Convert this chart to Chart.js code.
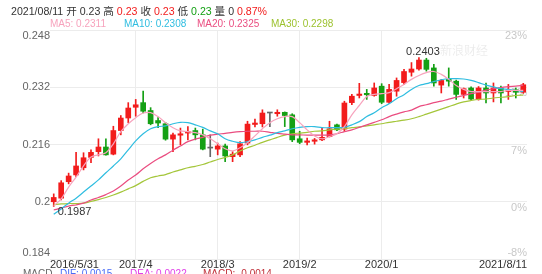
<!DOCTYPE html>
<html>
<head>
<meta charset="utf-8">
<script src="https://cdn.jsdelivr.net/npm/chart.js@4/dist/chart.umd.min.js"></script>
<style>
body{margin:0;background:#fff;font-family:Arial,"Liberation Sans","Noto Sans CJK SC",sans-serif;}
#wrap{position:relative;width:542px;height:274px;overflow:hidden;}
canvas{position:absolute;left:0;top:0;}
.hd{position:absolute;white-space:nowrap;}
.up{color:#f21c1c}.dn{color:#14a014}
</style>
</head>
<body>
<div id="wrap">
<canvas id="c" width="542" height="274"></canvas>
<div class="hd" style="left:11px;top:3px;font-size:10.6px;color:#333">2021/08/11 开 0.23 高 <span class="up">0.23</span> 收 <span class="up">0.23</span> 低 <span class="dn">0.23</span> 量 0 <span class="up">0.87%</span></div>
<div class="hd" style="left:50px;top:18px;font-size:10px;color:#f7a3bd">MA5: 0.2311</div>
<div class="hd" style="left:124px;top:18px;font-size:10px;color:#2fbde0">MA10: 0.2308</div>
<div class="hd" style="left:197px;top:18px;font-size:10px;color:#ea4d80">MA20: 0.2325</div>
<div class="hd" style="left:271px;top:18px;font-size:10px;color:#9cc22e">MA30: 0.2298</div>
<div class="hd" style="left:23px;top:268px;font-size:10px;color:#666">MACD</div>
<div class="hd" style="left:60px;top:268px;font-size:10px;color:#4a6cf7">DIF: 0.0015</div>
<div class="hd" style="left:130px;top:268px;font-size:10px;color:#e040e8">DEA: 0.0022</div>
<div class="hd" style="left:203px;top:268px;font-size:10px;color:#c0303a">MACD: -0.0014</div>
</div>
<script>
// monthly candles 2016/5 .. 2021/8
const months = [];
for (let y = 2016, m = 5; months.length < 64; m++) {
  if (m > 12) { m = 1; y++; }
  months.push(y + '/' + m);
}

const open  = [0.2000,0.2010,0.2056,0.2075,0.2095,0.2124,0.2140,0.2153,0.2133,0.2199,
               0.2234,0.2264,0.2277,0.2255,0.2227,0.2218,0.2175,0.2186,0.2192,0.2199,
               0.2187,0.2150,0.2147,0.2156,0.2126,0.2131,0.2164,0.2216,0.2218,0.2248,
               0.2246,0.2250,0.2243,0.2176,0.2166,0.2169,0.2173,0.2182,0.2215,0.2203,
               0.2277,0.2297,0.2303,0.2297,0.2323,0.2278,0.2309,0.2333,0.2362,0.2371,
               0.2396,0.2374,0.2326,0.2342,0.2337,0.2300,0.2318,0.2287,0.2318,0.2304,
               0.2318,0.2308,0.2313,0.2306];
const high  = [0.2022,0.2059,0.2080,0.2138,0.2137,0.2145,0.2176,0.2176,0.2211,0.2241,
               0.2277,0.2286,0.2309,0.2263,0.2235,0.2222,0.2192,0.2206,0.2210,0.2206,
               0.2203,0.2187,0.2164,0.2161,0.2140,0.2168,0.2225,0.2231,0.2257,0.2250,
               0.2257,0.2251,0.2246,0.2197,0.2178,0.2177,0.2206,0.2225,0.2217,0.2281,
               0.2300,0.2331,0.2314,0.2332,0.2330,0.2328,0.2346,0.2370,0.2389,0.2403,
               0.2401,0.2384,0.2342,0.2374,0.2340,0.2318,0.2321,0.2322,0.2332,0.2332,
               0.2323,0.2328,0.2318,0.2331];
const low   = [0.1987,0.2005,0.2050,0.2070,0.2089,0.2109,0.2128,0.2130,0.2131,0.2187,
               0.2221,0.2239,0.2248,0.2215,0.2207,0.2172,0.2140,0.2159,0.2173,0.2173,
               0.2145,0.2126,0.2131,0.2112,0.2112,0.2126,0.2159,0.2209,0.2209,0.2210,
               0.2239,0.2210,0.2168,0.2162,0.2159,0.2161,0.2171,0.2181,0.2199,0.2197,
               0.2271,0.2290,0.2286,0.2295,0.2274,0.2275,0.2295,0.2327,0.2351,0.2368,
               0.2365,0.2323,0.2304,0.2323,0.2286,0.2290,0.2285,0.2284,0.2276,0.2279,
               0.2276,0.2286,0.2290,0.2303];
const close = [0.2012,0.2053,0.2072,0.2100,0.2123,0.2138,0.2153,0.2131,0.2199,0.2234,
               0.2262,0.2271,0.2253,0.2218,0.2220,0.2175,0.2187,0.2190,0.2196,0.2187,
               0.2147,0.2150,0.2156,0.2128,0.2133,0.2162,0.2217,0.2220,0.2248,0.2248,
               0.2250,0.2241,0.2173,0.2166,0.2170,0.2173,0.2180,0.2204,0.2201,0.2276,
               0.2295,0.2301,0.2299,0.2318,0.2278,0.2314,0.2339,0.2364,0.2371,0.2396,
               0.2370,0.2332,0.2339,0.2337,0.2300,0.2316,0.2287,0.2318,0.2304,0.2318,
               0.2304,0.2310,0.2306,0.2327];

const ma5  = [0.1988,0.2008,0.2041,0.2069,0.2100,0.2125,0.2131,0.2137,0.2162,0.2196,
              0.2218,0.2235,0.2248,0.2249,0.2238,0.2221,0.2207,0.2198,0.2196,0.2193,
              0.2187,0.2176,0.2162,0.2148,0.2142,0.2151,0.2165,0.2184,0.2204,0.2221,
              0.2232,0.2238,0.2238,0.2221,0.2201,0.2184,0.2176,0.2182,0.2190,0.2210,
              0.2243,0.2269,0.2294,0.2300,0.2302,0.2305,0.2316,0.2328,0.2342,0.2353,
              0.2361,0.2364,0.2356,0.2342,0.2325,0.2314,0.2308,0.2308,0.2308,0.2308,
              0.2308,0.2311,0.2311,0.2311];
const ma10 = [0.1965,0.1980,0.1996,0.2010,0.2027,0.2044,0.2061,0.2081,0.2100,0.2120,
              0.2145,0.2170,0.2190,0.2204,0.2210,0.2212,0.2218,0.2222,0.2221,0.2215,
              0.2208,0.2198,0.2190,0.2176,0.2169,0.2165,0.2168,0.2173,0.2180,0.2186,
              0.2193,0.2198,0.2204,0.2208,0.2210,0.2210,0.2207,0.2207,0.2207,0.2208,
              0.2215,0.2224,0.2238,0.2249,0.2263,0.2274,0.2288,0.2299,0.2314,0.2325,
              0.2330,0.2336,0.2341,0.2344,0.2344,0.2343,0.2339,0.2333,0.2326,0.2321,
              0.2316,0.2314,0.2311,0.2308];
const ma20 = [0.1977,0.1982,0.1988,0.1991,0.1996,0.2005,0.2012,0.2020,0.2030,0.2044,
              0.2061,0.2075,0.2092,0.2107,0.2120,0.2131,0.2144,0.2156,0.2168,0.2175,
              0.2180,0.2186,0.2189,0.2191,0.2194,0.2196,0.2197,0.2197,0.2197,0.2194,
              0.2191,0.2189,0.2187,0.2187,0.2186,0.2186,0.2186,0.2187,0.2190,0.2196,
              0.2201,0.2208,0.2215,0.2222,0.2229,0.2238,0.2245,0.2251,0.2256,0.2266,
              0.2271,0.2277,0.2281,0.2287,0.2292,0.2297,0.2302,0.2306,0.2312,0.2316,
              0.2319,0.2322,0.2323,0.2325];
const ma30 = [0.1992,0.1994,0.1995,0.1995,0.1996,0.2001,0.2006,0.2012,0.2019,0.2027,
              0.2036,0.2045,0.2057,0.2067,0.2072,0.2076,0.2083,0.2089,0.2095,0.2099,
              0.2104,0.2111,0.2118,0.2124,0.2131,0.2142,0.2151,0.2158,0.2166,0.2173,
              0.2180,0.2186,0.2190,0.2192,0.2194,0.2197,0.2198,0.2201,0.2203,0.2204,
              0.2207,0.2209,0.2212,0.2215,0.2218,0.2222,0.2225,0.2228,0.2232,0.2238,
              0.2245,0.2252,0.2259,0.2266,0.2273,0.2279,0.2283,0.2286,0.2287,0.2290,
              0.2292,0.2294,0.2297,0.2298];

const yTicks = [0.248, 0.232, 0.216, 0.2, 0.184];
const yTickText = ['0.248', '0.232', '0.216', '0.2', '0.184'];
const pctText = ['23%', '15%', '7%', '0%', '-8%'];
const xTickIdx = [0, 11, 22, 33, 44, 63];
const xTickText = ['2016/5/31', '2017/4', '2018/3', '2019/2', '2020/1', '2021/8/11'];

const UP = '#f21c1c', DOWN = '#14a014', FLAT = '#666';
const colors = open.map((o, i) => close[i] > o ? UP : close[i] < o ? DOWN : FLAT);
const bodies = open.map((o, i) => [o, close[i]]);
const wicks = low.map((l, i) => [l, high[i]]);

const labelPlugin = {
  id: 'labels',
  beforeDatasetsDraw(chart) {
    const {ctx, chartArea: a, scales: {y}} = chart;
    ctx.save();
    ctx.font = '11px Arial';
    ctx.fillStyle = '#c8c8c8';
    ctx.textAlign = 'right';
    ctx.textBaseline = 'middle';
    yTicks.forEach((v, i) => {
      const py = y.getPixelForValue(v) + (i === yTicks.length - 1 ? -6 : 6);
      ctx.fillText(pctText[i], a.right, py);
    });
    ctx.font = '12px "Noto Sans CJK SC"';
    ctx.fillStyle = 'rgba(0,0,0,0.08)';
    ctx.textAlign = 'left';
    ctx.fillText('新浪财经', 440, 50);
    ctx.restore();
  },
  afterDatasetsDraw(chart) {
    const {ctx, chartArea: a, scales: {x, y}} = chart;
    ctx.save();
    ctx.font = '11px Arial';
    ctx.textBaseline = 'middle';
    ctx.fillStyle = '#666';
    ctx.textAlign = 'right';
    yTicks.forEach((v, i) => {
      let py = y.getPixelForValue(v);
      if (i === 0) py += 6;
      if (i === yTicks.length - 1) py -= 6;
      ctx.fillText(yTickText[i], a.left, py);
    });
    ctx.fillStyle = '#333';
    xTickIdx.forEach((idx, i) => {
      const px = x.getPixelForValue(idx);
      if (i === 0) { ctx.textAlign = 'left'; ctx.fillText(xTickText[i], a.left, a.bottom + 6); }
      else if (i === xTickIdx.length - 1) { ctx.textAlign = 'right'; ctx.fillText(xTickText[i], a.right, a.bottom + 6); }
      else { ctx.textAlign = 'center'; ctx.fillText(xTickText[i], px, a.bottom + 6); }
    });
    // highest / lowest marks
    const hi = high.indexOf(Math.max(...high));
    const lo = low.indexOf(Math.min(...low));
    ctx.textAlign = 'center';
    ctx.fillText(high[hi].toFixed(4), x.getPixelForValue(hi) + 4, y.getPixelForValue(high[hi]) - 6);
    ctx.textAlign = 'left';
    ctx.fillText(low[lo].toFixed(4), x.getPixelForValue(lo) + 4, y.getPixelForValue(low[lo]) + 6);
    ctx.restore();
  }
};

const line = (data, color) => ({
  type: 'line', data, borderColor: color, borderWidth: 1.2,
  pointRadius: 0, tension: 0.35, fill: false, order: 0
});

new Chart(document.getElementById('c'), {
  type: 'bar',
  data: {
    labels: months,
    datasets: [
      line(ma5, '#f7a3bd'),
      line(ma10, '#2fbde0'),
      line(ma20, '#ea4d80'),
      line(ma30, '#a4c63a'),
      {data: bodies, backgroundColor: colors, barThickness: 5, minBarLength: 1, grouped: false, order: 1},
      {data: wicks, backgroundColor: colors, barThickness: 1, grouped: false, order: 2}
    ]
  },
  options: {
    responsive: false,
    animation: false,
    layout: {padding: {left: 50, right: 15, top: 30, bottom: 15}},
    plugins: {legend: {display: false}, tooltip: {enabled: false}},
    scales: {
      x: {
        offset: true,
        grid: {offset: false, drawTicks: false, color: c => [11, 22, 33, 44].includes(c.index) ? '#ececec' : 'rgba(0,0,0,0)'},
        ticks: {display: false, autoSkip: false},
        border: {display: false}
      },
      y: {
        min: 0.184, max: 0.248,
        ticks: {display: false, stepSize: 0.016},
        grid: {color: '#ececec', drawTicks: false},
        border: {display: false}
      }
    }
  },
  plugins: [labelPlugin]
});
</script>
</body>
</html>
